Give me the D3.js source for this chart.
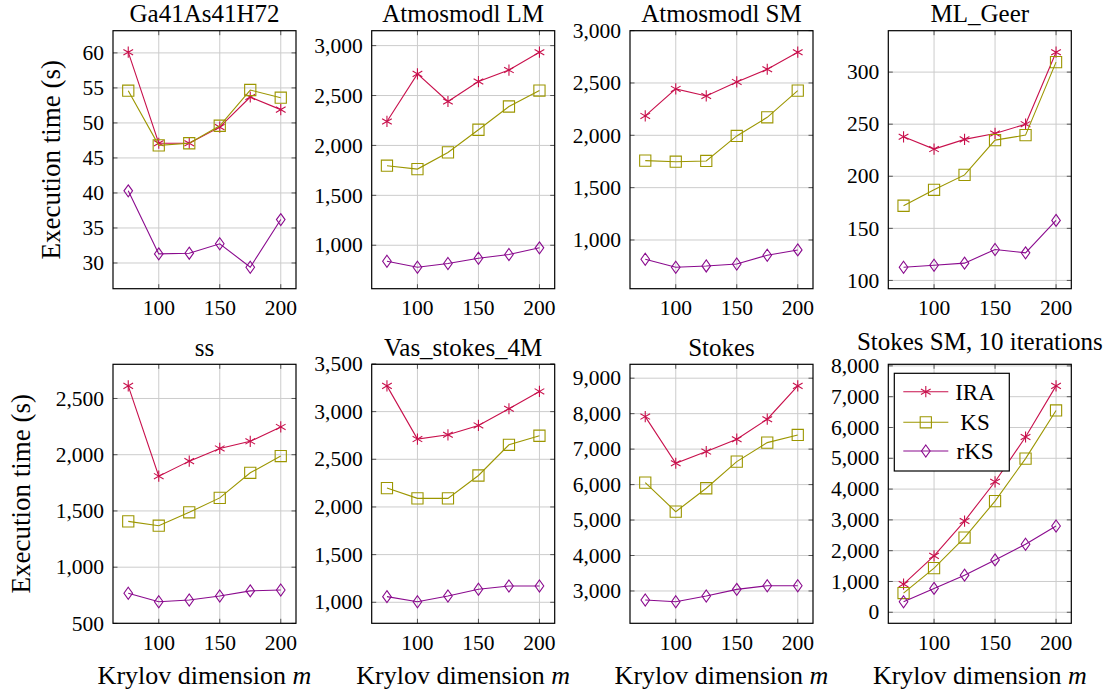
<!DOCTYPE html>
<html><head><meta charset="utf-8">
<script src="https://cdn.jsdelivr.net/npm/d3@7"></script>
<style>
body{margin:0;background:#fff;}
svg text{font-family:'Liberation Serif','Times New Roman',serif;fill:#000;}
</style></head><body>
<svg id="chart" width="1116" height="695"></svg>
<script>
// ---------- data ----------
const krylovDims = [75, 100, 125, 150, 175, 200];
const xTickValues = [100, 150, 200];
const panelTitles = ["Ga41As41H72", "Atmosmodl LM", "Atmosmodl SM", "ML_Geer",
                     "ss", "Vas_stokes_4M", "Stokes", "Stokes SM, 10 iterations"];
const seriesNames = ["IRA", "KS", "rKS"];

const iraTimes = [
  [60.1, 47.1, 47.1, 49.4, 53.7, 51.9],
  [2240, 2717, 2440, 2640, 2755, 2934],
  [2185, 2443, 2376, 2510, 2631, 2794],
  [237.9, 226.1, 235.4, 241.1, 250.0, 319.1],
  [2612, 1809, 1943, 2056, 2119, 2247],
  [3270, 2712, 2757, 2855, 3030, 3212],
  [7917, 6602, 6930, 7279, 7843, 8783],
  [915, 1831, 2963, 4237, 5692, 7351]
];
const ksTimes = [
  [54.6, 46.8, 47.1, 49.6, 54.7, 53.6],
  [1797, 1763, 1930, 2157, 2390, 2550],
  [1758, 1748, 1755, 1994, 2172, 2427],
  [171.7, 187.0, 201.3, 234.7, 239.5, 309.6],
  [1407, 1369, 1488, 1616, 1839, 1988],
  [2198, 2090, 2090, 2330, 2652, 2747],
  [6054, 5236, 5896, 6647, 7183, 7400],
  [624, 1433, 2426, 3610, 4990, 6553]
];
const rksTimes = [
  [40.3, 31.3, 31.4, 32.75, 29.4, 36.2],
  [840, 780, 817, 870, 907, 974],
  [816, 740, 752, 771, 854, 905],
  [112.7, 114.6, 116.6, 129.7, 126.5, 157.6],
  [768, 693, 708, 744, 789, 797],
  [1059, 1006, 1066, 1137, 1171, 1171],
  [2744, 2697, 2857, 3046, 3148, 3148],
  [343, 776, 1206, 1701, 2209, 2801]
];
const yTickValues = [
  [30, 35, 40, 45, 50, 55, 60],
  [1000, 1500, 2000, 2500, 3000],
  [1000, 1500, 2000, 2500, 3000],
  [100, 150, 200, 250, 300],
  [500, 1000, 1500, 2000, 2500],
  [1000, 1500, 2000, 2500, 3000, 3500],
  [3000, 4000, 5000, 6000, 7000, 8000, 9000],
  [0, 1000, 2000, 3000, 4000, 5000, 6000, 7000, 8000]
];

// ---------- styling / layout ----------
const colors = ["#c8104c", "#9c9600", "#8a0a8e"];
const markers = ["asterisk", "square", "diamond"];
const colLeft = [113, 371.7, 630, 888.3];
const rowTop = [30.7, 364.3];
const rowH = [258, 259];
const panelW = 183;
const titleBaseline = [21.7, 21.7, 21.7, 21.7, 355.5, 355.8, 355.5, 350];
const yLabelX = [60, 30];

const svg = d3.select("#chart");
const fmt = d3.format(",");

function markerPath(type) {
  const p = d3.path();
  if (type === "asterisk") {
    const r = 5.6, c = Math.cos(Math.PI / 6) * r, s = r / 2;
    p.moveTo(0, -r); p.lineTo(0, r);
    p.moveTo(-c, -s); p.lineTo(c, s);
    p.moveTo(-c, s); p.lineTo(c, -s);
  } else if (type === "square") {
    p.rect(-5.6, -5.6, 11.2, 11.2);
  } else {
    p.moveTo(0, -6); p.lineTo(4.3, 0); p.lineTo(0, 6); p.lineTo(-4.3, 0); p.closePath();
  }
  return p.toString();
}

function enlarged(ext) {
  const pad = (ext[1] - ext[0]) * 0.1;
  return [ext[0] - pad, ext[1] + pad];
}

const xDomain = enlarged(d3.extent(krylovDims));

panelTitles.forEach((title, i) => {
  const col = i % 4, row = Math.floor(i / 4);
  const left = colLeft[col], top = rowTop[row], h = rowH[row];
  const right = left + panelW, bottom = top + h;
  const seriesData = [iraTimes[i], ksTimes[i], rksTimes[i]];
  const allVals = seriesData.flat();

  const x = d3.scaleLinear().domain(xDomain).range([left, right]);
  const y = d3.scaleLinear().domain(enlarged(d3.extent(allVals))).range([bottom, top]);

  const g = svg.append("g");

  // grid
  g.selectAll(".gx").data(xTickValues).join("line")
    .attr("x1", d => x(d)).attr("x2", d => x(d))
    .attr("y1", top).attr("y2", bottom)
    .attr("stroke", "#cccccc").attr("stroke-width", 1);
  g.selectAll(".gy").data(yTickValues[i]).join("line")
    .attr("x1", left).attr("x2", right)
    .attr("y1", d => y(d)).attr("y2", d => y(d))
    .attr("stroke", "#cccccc").attr("stroke-width", 1);

  // inner tick marks
  const tl = 4.5;
  xTickValues.forEach(t => {
    g.append("line").attr("x1", x(t)).attr("x2", x(t)).attr("y1", bottom).attr("y2", bottom - tl)
      .attr("stroke", "#555").attr("stroke-width", 1);
    g.append("line").attr("x1", x(t)).attr("x2", x(t)).attr("y1", top).attr("y2", top + tl)
      .attr("stroke", "#555").attr("stroke-width", 1);
  });
  yTickValues[i].forEach(t => {
    g.append("line").attr("x1", left).attr("x2", left + tl).attr("y1", y(t)).attr("y2", y(t))
      .attr("stroke", "#555").attr("stroke-width", 1);
    g.append("line").attr("x1", right).attr("x2", right - tl).attr("y1", y(t)).attr("y2", y(t))
      .attr("stroke", "#555").attr("stroke-width", 1);
  });

  // series
  seriesData.forEach((vals, s) => {
    const pts = krylovDims.map((k, j) => [k, vals[j]]);
    g.append("path")
      .attr("d", d3.line().x(d => x(d[0])).y(d => y(d[1]))(pts))
      .attr("fill", "none").attr("stroke", colors[s]).attr("stroke-width", 1.1);
    g.selectAll(".m" + s).data(pts).join("path")
      .attr("transform", d => `translate(${x(d[0])},${y(d[1])})`)
      .attr("d", markerPath(markers[s]))
      .attr("fill", "none").attr("stroke", colors[s]).attr("stroke-width", 1.1);
  });

  // frame
  g.append("rect").attr("x", left).attr("y", top).attr("width", panelW).attr("height", h)
    .attr("fill", "none").attr("stroke", "#000").attr("stroke-width", 1.2);

  // tick labels
  g.selectAll(".yl").data(yTickValues[i]).join("text")
    .attr("x", left - 9).attr("y", d => y(d) + 7.2)
    .attr("text-anchor", "end").attr("font-size", 21.5)
    .text(d => fmt(d));
  g.selectAll(".xl").data(xTickValues).join("text")
    .attr("x", d => x(d)).attr("y", bottom + 26.5)
    .attr("text-anchor", "middle").attr("font-size", 21.5)
    .text(d => fmt(d));

  // title
  g.append("text").attr("x", (left + right) / 2).attr("y", titleBaseline[i])
    .attr("text-anchor", "middle").attr("font-size", 25).text(title);

  // y label
  if (col === 0) {
    g.append("text")
      .attr("transform", `translate(${yLabelX[row]},${(top + bottom) / 2}) rotate(-90)`)
      .attr("text-anchor", "middle").attr("font-size", 27)
      .text("Execution time (s)");
  }
  // x label
  if (row === 1) {
    const t = g.append("text").attr("x", (left + right) / 2).attr("y", 683.5)
      .attr("text-anchor", "middle").attr("font-size", 26);
    t.append("tspan").text("Krylov dimension ");
    t.append("tspan").attr("font-style", "italic").text("m");
  }

  // legend in last panel
  if (i === 7) {
    const lg = g.append("g");
    lg.append("rect").attr("x", 894.3).attr("y", 373.3).attr("width", 115).attr("height", 97.7)
      .attr("fill", "#fff").attr("stroke", "#000").attr("stroke-width", 1.2);
    const rowsY = [391.7, 422.3, 451];
    seriesNames.forEach((name, s) => {
      const cy = rowsY[s];
      lg.append("line").attr("x1", 903.3).attr("x2", 948.3).attr("y1", cy).attr("y2", cy)
        .attr("stroke", colors[s]).attr("stroke-width", 1.1);
      lg.append("path").attr("transform", `translate(925.8,${cy})`).attr("d", markerPath(markers[s]))
        .attr("fill", "none").attr("stroke", colors[s]).attr("stroke-width", 1.1);
      lg.append("text").attr("x", 975).attr("y", cy + 7.8).attr("text-anchor", "middle")
        .attr("font-size", 23).text(name);
    });
  }
});
</script>
</body></html>
